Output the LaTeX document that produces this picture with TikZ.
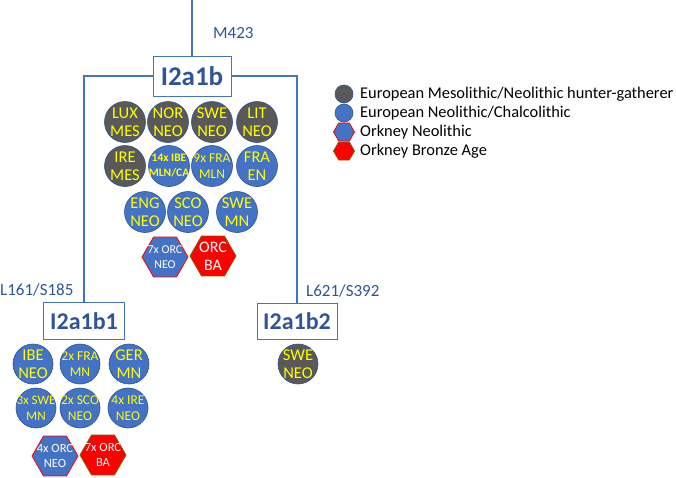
\documentclass[tikz,border=0pt]{standalone}
\usepackage{fontspec}
\setmainfont{Carlito}
\usetikzlibrary{shapes.geometric}
\definecolor{lineblue}{HTML}{4472C4}
\definecolor{txtblue}{HTML}{2F5597}
\definecolor{cgrey}{HTML}{595959}
\definecolor{cblue}{HTML}{4472C4}
\definecolor{cedge}{HTML}{2F528F}
\definecolor{hbrown}{HTML}{7F6000}
\definecolor{hred}{HTML}{FF0000}
\definecolor{ctxt}{HTML}{FFFF00}
\newcommand\hapc[5]{\node[#1] (#2) at (#3) {}; \node[ctext,#4] (#2t) at (#2) {#5};}
\begin{document}
\begin{tikzpicture}[x=1pt,y=-1pt,
  line/.style={draw=lineblue, line width=1.8pt},
  hapbox/.style={draw=lineblue, line width=1pt, fill=white, text=txtblue, inner sep=0pt},
  mlabel/.style={text=txtblue, font=\fontsize{17}{19}\selectfont, inner sep=0pt},
  gc/.style={circle, fill=cgrey, draw=cedge, line width=0.6pt, minimum size=41pt, inner sep=0pt},
  bc/.style={circle, fill=cblue, draw=cedge, line width=0.6pt, minimum size=41pt, inner sep=0pt},
  gcs/.style={gc, minimum size=40pt},
  bcs/.style={bc, minimum size=40pt},
  bhex/.style={regular polygon, regular polygon sides=6, fill=cblue, draw=hred, line width=0.8pt, minimum size=46pt, inner sep=0pt},
  rhex/.style={regular polygon, regular polygon sides=6, fill=hred, draw=hbrown, line width=0.8pt, minimum size=46pt, inner sep=0pt},
  ctext/.style={text=ctxt, align=center, inner sep=0pt, font=\fontsize{16.5}{18}\selectfont},
  htext/.style={text=white, align=center, inner sep=0pt, font=\fontsize{12}{15}\selectfont},
  legtext/.style={anchor=west, inner sep=0pt, font=\fontsize{16.4}{19}\selectfont},
]
\useasboundingbox[fill=white] (0,0) rectangle (676,477);

% haplogroup boxes
\node[hapbox, minimum width=78pt, minimum height=40pt, font=\bfseries\fontsize{27}{29}\selectfont] (b1) at (192,76) {I2a1b};
\node[hapbox, minimum width=81pt, minimum height=37pt, font=\bfseries\fontsize{24}{26}\selectfont] (b11) at (84,321) {I2a1b1};
\node[hapbox, minimum width=80pt, minimum height=36pt, font=\bfseries\fontsize{24}{26}\selectfont] (b12) at (297,321) {I2a1b2};
\coordinate (top) at (192,0);

% connectors
\draw[line] (top) -- (b1.north);
\draw[line] (b1.west) -- (b11.north |- b1.west) -- (b11.north);
\draw[line] (b1.east) -- (b12.north |- b1.east) -- (b12.north);

% mutation labels
\node[mlabel, anchor=west] (m423) at (213,33) {M423};
\node[mlabel, anchor=west] (l161) at (0,290) {L161/S185};
\node[mlabel, anchor=west] (l621) at (306,291) {L621/S392};

% I2a1b samples
\hapc{gc}{lux}{125,122}{}{LUX\\MES}
\hapc{gc}{nor}{168,122}{}{NOR\\NEO}
\hapc{gc}{swea}{212,122}{}{SWE\\NEO}
\hapc{gc}{lit}{257,122}{}{LIT\\NEO}
\hapc{gc}{irea}{125,166}{}{IRE\\MES}
\hapc{bc}{ibea}{169,166}{font=\bfseries\fontsize{11.5}{15}\selectfont}{14x IBE\\MLN/CA}
\hapc{bc}{fraa}{212,166}{font=\fontsize{13.5}{16}\selectfont}{9x FRA\\MLN}
\hapc{bc}{frab}{257,166}{}{FRA\\EN}
\hapc{bc}{eng}{145,212}{}{ENG\\NEO}
\hapc{bc}{scoa}{188,212}{}{SCO\\NEO}
\hapc{bc}{sweb}{237,212}{}{SWE\\MN}
\node[bhex] (orca) at (165,257) {};
\node[htext] (orcat) at (orca) {7x ORC\\NEO};
\node[rhex] (orcb) at (213,256) {};
\node[htext, font=\fontsize{16}{18}\selectfont] (orcbt) at (orcb) {ORC\\BA};

% I2a1b1 samples
\hapc{bcs}{ibeb}{33,364}{}{IBE\\NEO}
\hapc{bcs}{frac}{80,364}{font=\fontsize{13.5}{16}\selectfont}{2x FRA\\MN}
\hapc{bcs}{ger}{129,364}{}{GER\\MN}
\hapc{bcs}{swec}{36,408}{font=\fontsize{13}{16}\selectfont}{3x SWE\\MN}
\hapc{bcs}{scob}{80,408}{font=\fontsize{13.5}{16}\selectfont}{2x SCO\\NEO}
\hapc{bcs}{ireb}{128,408}{font=\fontsize{13.5}{16}\selectfont}{4x IRE\\NEO}
\node[bhex] (orcc) at (55,456) {};
\node[htext, font=\fontsize{12.5}{15}\selectfont] (orcct) at (orcc) {4x ORC\\NEO};
\node[rhex] (orcd) at (103,455) {};
\node[htext, font=\fontsize{12.5}{15}\selectfont] (orcdt) at (orcd) {7x ORC\\BA};

% I2a1b2 sample
\hapc{gcs}{swed}{298,364}{}{SWE\\NEO}

% legend
\node[gc, minimum size=18pt] (lg1) at (344,94) {};
\node[bc, minimum size=18pt] (lg2) at (344,113) {};
\node[bhex, minimum size=21pt] (lg3) at (344,132) {};
\node[rhex, minimum size=21pt] (lg4) at (344,151) {};
\node[legtext] (lt1) at (360,94) {European Mesolithic/Neolithic hunter-gatherer};
\node[legtext] (lt2) at (360,113) {European Neolithic/Chalcolithic};
\node[legtext] (lt3) at (360,132) {Orkney Neolithic};
\node[legtext] (lt4) at (360,151) {Orkney Bronze Age};
\end{tikzpicture}
\end{document}
